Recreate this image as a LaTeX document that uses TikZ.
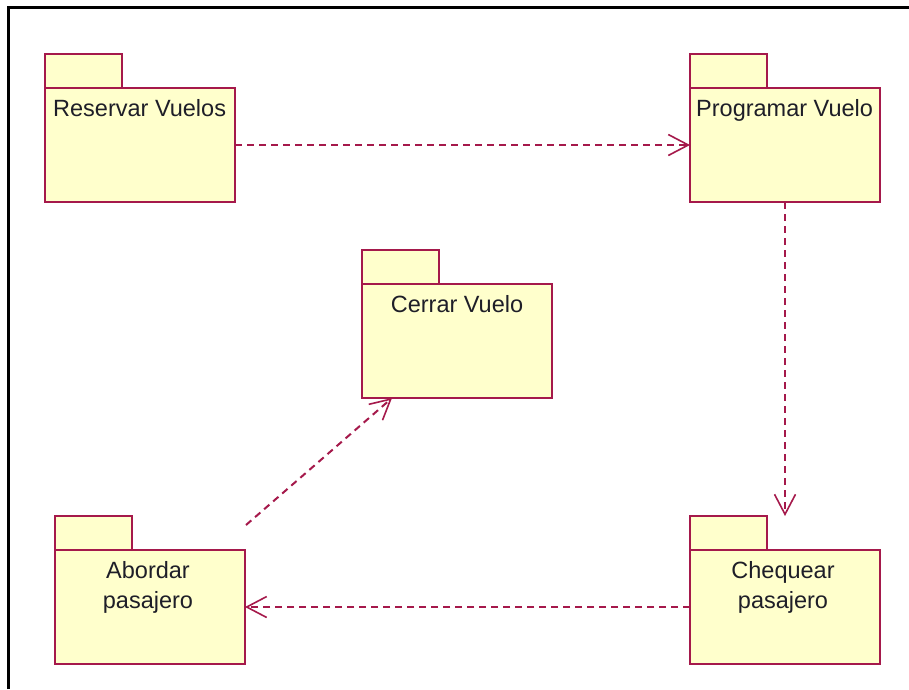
\documentclass[tikz,border=0pt]{standalone}
\usepackage{fontspec}
\setmainfont{Liberation Sans}
\usetikzlibrary{arrows.meta,calc}
\definecolor{pkgline}{RGB}{165,25,75}
\definecolor{pkgfill}{RGB}{255,255,204}
\definecolor{pkgtxt}{RGB}{30,30,40}
\tikzset{
  pkgbody/.style={draw=pkgline, fill=pkgfill, line width=2.2pt, rectangle,
    minimum width=190pt, minimum height=114pt, inner sep=0pt, outer sep=0pt, anchor=north west},
  pkgtab/.style={draw=pkgline, fill=pkgfill, line width=2.2pt, rectangle,
    minimum width=77pt, minimum height=34pt, inner sep=0pt, outer sep=0pt, anchor=south west},
  pkgtext/.style={text=pkgtxt, font=\fontsize{23.5}{30}\selectfont, inner sep=0pt, align=center},
  dep/.style={draw=pkgline, line width=2pt, dash pattern=on 7pt off 5pt,
    -{Straight Barb[length=20pt,width=21pt,line width=1.6pt]}},
  frameline/.style={draw=black, line width=3pt}
}
\begin{document}
\begin{tikzpicture}[x=1pt,y=-1pt]
\useasboundingbox (0,0) rectangle (909,689);
\coordinate (fa) at (8,689);
\coordinate (fb) at (8,7);
\coordinate (fc) at (909,7);
\draw[frameline] (fa) -- (fb) -- (fc);

% Reservar Vuelos
\node[pkgbody] (rv) at (45,88) {};
\node[pkgtab] (rvt) at (rv.north west) {};
\node[pkgtext, anchor=base west] (rvl) at ([xshift=8pt,yshift=-28pt]rv.north west) {Reservar Vuelos};

% Programar Vuelo
\node[pkgbody] (pv) at (690,88) {};
\node[pkgtab] (pvt) at (pv.north west) {};
\node[pkgtext, anchor=base west] (pvl) at ([xshift=6pt,yshift=-28pt]pv.north west) {Programar Vuelo};

% Cerrar Vuelo
\node[pkgbody] (cv) at (362,284) {};
\node[pkgtab] (cvt) at (cv.north west) {};
\node[pkgtext, anchor=base] (cvl) at ([yshift=-28pt]cv.north) {Cerrar Vuelo};

% Abordar pasajero
\node[pkgbody] (ab) at (55,550) {};
\node[pkgtab] (abt) at (ab.north west) {};
\node[pkgtext, anchor=north] (abl) at ([xshift=-2pt,yshift=-11pt]ab.north) {Abordar\\pasajero};

% Chequear pasajero
\node[pkgbody] (cq) at (690,550) {};
\node[pkgtab] (cqt) at (cq.north west) {};
\node[pkgtext, anchor=north] (cql) at ([xshift=-2pt,yshift=-11pt]cq.north) {Chequear\\pasajero};

% dependencies
\draw[dep] (rv.east) -- (pv.west);
\draw[dep] (pv.south) -- (cq.north |- cqt.north);
\draw[dep] (cq.west) -- (ab.east);
\coordinate (abs) at ([xshift=1pt,yshift=25pt]ab.north east);
\draw[dep] (abs) -- ([xshift=30pt]cv.south west);
\end{tikzpicture}
\end{document}
